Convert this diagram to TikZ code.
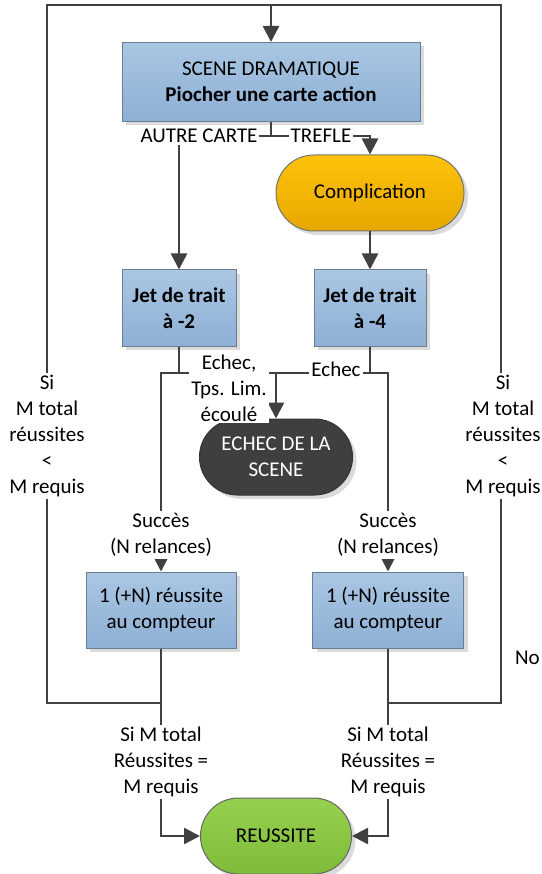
\documentclass[tikz,border=0pt]{standalone}
\usepackage{fontspec}
\setmainfont{Carlito}
\usetikzlibrary{arrows.meta,shadows}
\definecolor{ln}{HTML}{404040}
\definecolor{bluetop}{HTML}{AAC6E3}
\definecolor{bluebot}{HTML}{8DB0D5}
\definecolor{bluebd}{HTML}{6B7D93}
\definecolor{oratop}{HTML}{FFC20A}
\definecolor{orabot}{HTML}{E6A800}
\definecolor{grtop}{HTML}{96D04E}
\definecolor{grbot}{HTML}{7EBC3A}
\definecolor{darkfill}{HTML}{3F3F3F}
\tikzset{
  every node/.style={font=\fontsize{21}{26}\selectfont, align=center},
  shad/.style={drop shadow={shadow xshift=4pt, shadow yshift=-4pt, fill=black!40, opacity=0.35}},
  bluebox/.style={shad, draw=bluebd, line width=1pt, top color=bluetop, bottom color=bluebot, inner sep=0pt, minimum height=76pt},
  stadium/.style={shad, line width=1pt, rounded corners=37.9pt, inner sep=0pt, minimum height=76pt},
  orastad/.style={stadium, draw=black!55, top color=oratop, bottom color=orabot},
  darkstad/.style={stadium, draw=black!80, fill=darkfill, text=white},
  grstad/.style={stadium, draw=black!60, top color=grtop, bottom color=grbot},
  conn/.style={draw=ln, line width=2.5pt},
  arr/.style={conn, -{Triangle[length=16pt,width=16pt]}},
  lab/.style={fill=white, inner sep=2pt}
}
\begin{document}
\begin{tikzpicture}[x=1pt,y=-1pt]
\useasboundingbox (0,0) rectangle (541,874);
% shapes
\node[bluebox, minimum width=298pt, minimum height=79pt] (top) at (271,82) {SCENE DRAMATIQUE\\\textbf{Piocher une carte action}};
\node[orastad, minimum width=188pt] (compl) at (370,193) {Complication};
\node[bluebox, minimum width=114pt] (jet2) at (179,308) {\textbf{Jet de trait}\\\textbf{à -2}};
\node[bluebox, minimum width=112pt] (jet4) at (370,308) {\textbf{Jet de trait}\\\textbf{à -4}};
\node[darkstad, minimum width=153pt] (echec) at (276,457) {ECHEC DE LA\\SCENE};
\node[bluebox, minimum width=150pt] (cpt1) at (161,610) {1 (+N) réussite\\au compteur};
\node[bluebox, minimum width=151pt] (cpt2) at (388,610) {1 (+N) réussite\\au compteur};
\node[grstad, minimum width=151pt] (reuss) at (276,836) {REUSSITE};
% coordinates
\coordinate (br) at (271,136);
\coordinate (tl) at (271,5);
\coordinate (lt) at (47,5);
\coordinate (rt) at (501,5);
\coordinate (lb) at (47,703);
\coordinate (rb) at (501,703);
\coordinate (fl) at (161,373);
\coordinate (fm) at (276,373);
\coordinate (fr) at (388,373);
% connectors
\draw[conn] (top.south) -- (br);
\draw[arr] (br) -| (jet2.north);
\draw[arr] (br) -| (compl.north);
\draw[arr] (compl.south) -- (jet4.north);
\draw[arr] (jet2.south) |- (fl) -- (cpt1.north);
\draw[arr] (jet2.south) |- (fm) -- (echec.north);
\draw[conn] (jet4.south) |- (fm);
\draw[arr] (jet4.south) |- (fr) -- (cpt2.north);
\draw[arr] (cpt1.south) |- (reuss.west);
\draw[arr] (cpt2.south) |- (reuss.east);
\draw[conn] (cpt1.south) |- (lb) -- (lt) -- (tl);
\draw[conn] (cpt2.south) |- (rb) -- (rt) -- (tl);
\draw[arr] (tl) -- (top.north);
% labels
\node[lab] (lAutre) at (199,136) {AUTRE CARTE};
\node[lab] (lTrefle) at (321,136) {TREFLE};
\node[lab] (lEch1) at (229,388) {Echec,\\Tps. Lim.\\écoulé};
\node[lab] (lEch2) at (336,369) {Echec};
\node[lab] (lS1) at (161,535) {Succès\\(N relances)};
\node[lab] (lS2) at (388,535) {Succès\\(N relances)};
\node[lab] (lM1) at (161,762) {Si M total\\Réussites =\\M requis};
\node[lab] (lM2) at (388,762) {Si M total\\Réussites =\\M requis};
\node[lab] (lL) at (47,436) {Si\\M total\\réussites\\<\\M requis};
\node[lab] (lR) at (503,436) {Si\\M total\\réussites\\<\\M requis};
\node[anchor=east, inner sep=0pt] (no) at (540,658) {No};
\end{tikzpicture}
\end{document}
